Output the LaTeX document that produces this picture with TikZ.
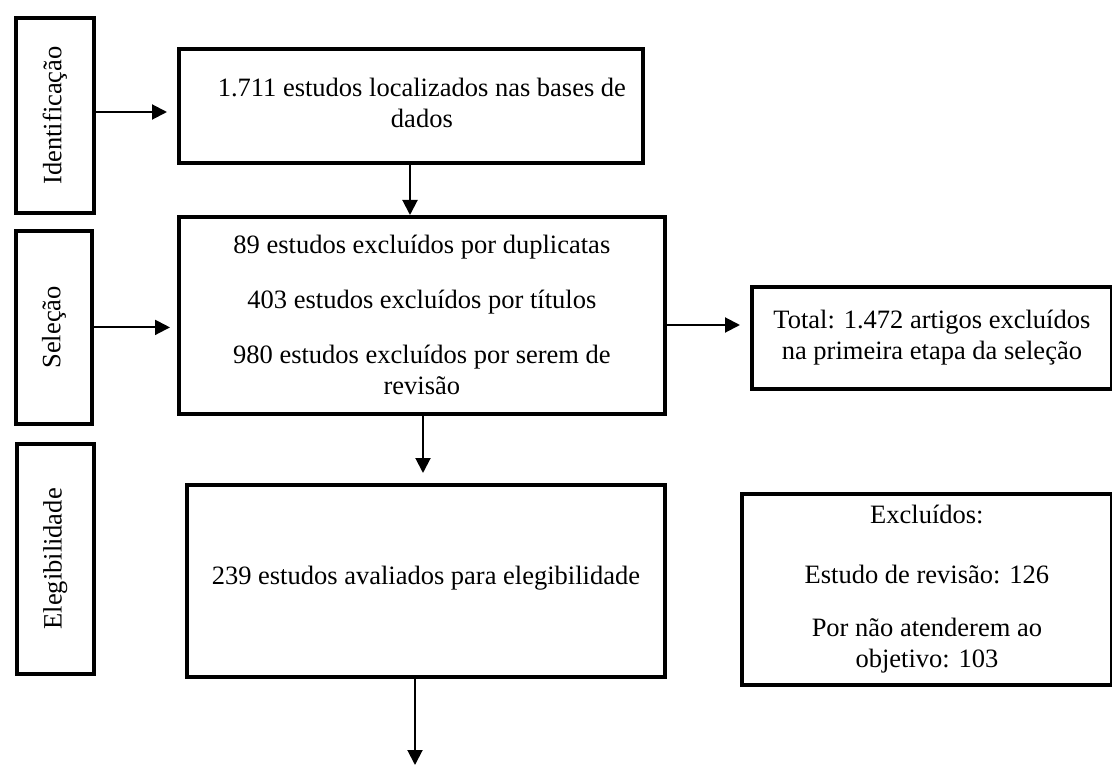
\documentclass[tikz,border=0pt]{standalone}
\usepackage{fontspec}
\setmainfont{Liberation Serif}
\usepackage{graphicx}
\usetikzlibrary{arrows.meta}
\begin{document}
\begin{tikzpicture}[x=1pt,y=-1pt,
  box/.style={draw=black,line width=3.8pt,rectangle,anchor=north west,align=center,inner sep=0pt,
    font=\fontsize{26.5}{31}\selectfont},
  arr/.style={draw=black,line width=2pt,-{Triangle[length=15pt,width=15pt]}}]
\useasboundingbox (0,0) rectangle (1112,765);
% stage labels
\node[box,minimum width=78,minimum height=195] (ident) at (14,16) {\rotatebox{90}{Identificação}};
\node[box,minimum width=76,minimum height=193] (sel) at (14,229) {\rotatebox{90}{Seleção}};
\node[box,minimum width=77,minimum height=230] (eleg) at (15,442) {\rotatebox{90}{Elegibilidade}};
% main boxes
\node[box,minimum width=464,minimum height=114] (b1) at (177,47) {\raisebox{7pt}{\begin{tabular}{@{}c@{}}\hspace*{22pt}1.711 estudos localizados nas bases de\\\hspace*{22pt}dados\end{tabular}}};
\node[box,minimum width=486,minimum height=197] (b2) at (177,215) {89 estudos excluídos por duplicatas\\[24pt]403 estudos excluídos por títulos\\[24pt]980 estudos excluídos por serem de\\revisão};
\node[box,minimum width=478,minimum height=192] (b3) at (185,483) {\raisebox{11pt}{239 estudos avaliados para elegibilidade}};
\node[box,minimum width=360,minimum height=102] (tot) at (750,285) {Total: 1.472 artigos excluídos\\na primeira etapa da seleção};
\node[box,minimum width=370,minimum height=191] (exc) at (740,492) {Excluídos:\\[29pt]Estudo de revisão: 126\\[22pt]Por não atenderem ao\\objetivo: 103};
% connectors
\coordinate (c1) at (410,0);
\coordinate (c2) at (423,0);
\coordinate (c3) at (415,765);
\coordinate (r1) at (0,325);
\draw[arr,shorten >=10pt] (ident.east |- 0,112) -- (b1.west |- 0,112);
\draw[arr,shorten >=7pt] (sel.east) -- (b2.west |- sel.east);
\draw[arr] (b1.south -| c1) -- (b2.north -| c1);
\draw[arr,shorten >=10pt] (b2.south -| c2) -- (b3.north -| c2);
\draw[arr,shorten >=10pt] (b2.east |- r1) -- (tot.west |- r1);
\draw[arr] (b3.south -| c3) -- (c3);
\end{tikzpicture}
\end{document}
